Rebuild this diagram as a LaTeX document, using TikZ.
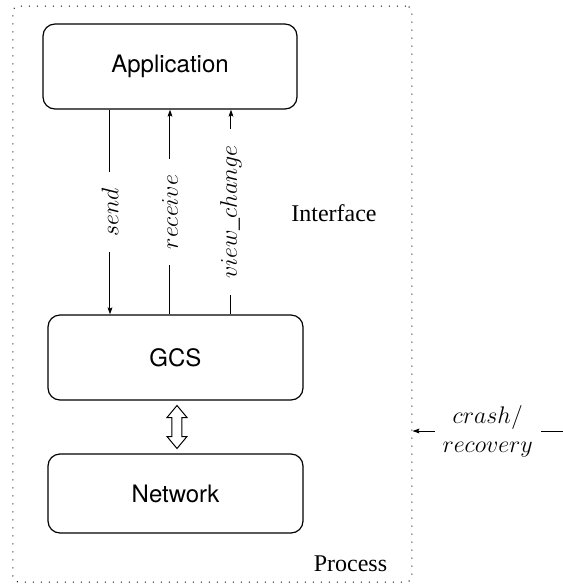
\documentclass[tikz,border=0pt,12pt]{standalone}
\usepackage{fontspec}
\setmainfont{Liberation Serif}
\newfontfamily\boxfont{TeX Gyre Heros}
\usetikzlibrary{arrows.meta,calc}

\begin{document}
\begin{tikzpicture}[x=0.5pt, y=-0.5pt, line width=0.5pt,
  >={Stealth[length=3.5pt,width=2.4pt,inset=0.6pt]},
  every node/.style = {align=center},
  layer/.style = {shape=rectangle, draw, rounded corners=6pt,
    line width=0.6pt, inner sep=0pt, minimum width=127.5pt,
    font=\boxfont},
  call/.style = {midway, fill=white, rotate=90,
    inner xsep=8pt, inner ysep=1pt}]
  \useasboundingbox (0,0) rectangle (563,586);
  % process frame
  \node[draw, dash pattern=on 0.5pt off 3.5pt, rounded corners=3pt,
    minimum width=199.6pt, minimum height=288pt] (process) at (212.4,294) {};
  % layers
  \node[layer, minimum width=127pt, minimum height=42.5pt] (app) at (170,66.5) {Application};
  \node[layer, minimum height=42.5pt] (gcs) at (175.5,357.5) {GCS};
  \node[layer, minimum height=39.5pt] (net) at (175.5,493.5) {Network};
  \coordinate (link) at ($(gcs.south)!0.5!(net.north)+(1.5,0)$);
  \draw (link) ++(0,-21.5) -- ++(10,12) -- ++(-5,0) -- ++(0,19) -- ++(5,0)
    -- ++(-10,12) -- ++(-10,-12) -- ++(5,0) -- ++(0,-19) -- ++(-5,0) -- cycle;
  % interface calls
  \draw[->] (app.south -| 110,0) -- (gcs.north -| 110,0) node[call] {$send$};
  \draw[->] (gcs.north -| 170,0) -- (app.south -| 170,0) node[call] {$receive$};
  \draw[->] (gcs.north -| 231,0) -- (app.south -| 231,0) node[call] {$view\_change$};
  \node (iface) at (334,213) {Interface};
  \node (proc) at (350.5,564) {Process};
  % failures
  \coordinate (fault) at (563,431);
  \draw[->] (fault) -- (fault -| process.east)
    node[midway, fill=white, inner xsep=4pt, inner ysep=0pt] {$crash/$\\$recovery$};
\end{tikzpicture}
\end{document}
